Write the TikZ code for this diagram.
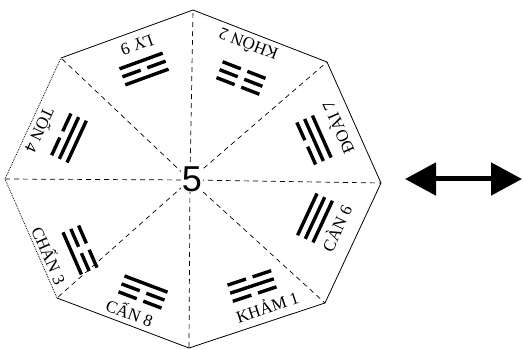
\documentclass[tikz,border=0pt]{standalone}
\usepackage{fontspec}
\setmainfont{Liberation Serif}
\newfontfamily\digitfont{Liberation Sans}
\usetikzlibrary{arrows.meta}
\newcommand{\trline}[2]{%
  \ifnum#2=1
    \draw[trig] (-23,#1) -- (23,#1);
  \else
    \draw[trig] (-23,#1) -- (-3.5,#1) (3.5,#1) -- (23,#1);
  \fi}
\newcommand{\trigram}[6]{%
  \begin{scope}[shift={(#1,#2)},rotate=#3]
    \trline{-8.5}{#4}\trline{0}{#5}\trline{8.5}{#6}
  \end{scope}}
\begin{document}
\begin{tikzpicture}[x=1pt,y=-1pt,
  edge/.style={line width=0.8pt, line join=round},
  spoke/.style={line width=0.7pt, dash pattern=on 5pt off 4pt},
  lab/.style={font=\fontsize{17}{17}\selectfont, inner sep=0pt},
  trig/.style={line width=3.4pt},
  bigarrow/.style={line width=5pt, {Triangle[length=31pt,width=32pt]}-{Triangle[length=31pt,width=32pt]}}]
\useasboundingbox (0,0) rectangle (523,350);
\coordinate (c) at (190,180);
\coordinate (v0) at (193,10);
\coordinate (v1) at (327,62);
\coordinate (v2) at (381,183);
\coordinate (v3) at (325,303);
\coordinate (v4) at (189,348);
\coordinate (v5) at (57,298);
\coordinate (v6) at (5,179);
\coordinate (v7) at (61,58);
\foreach \i in {0,...,7} \draw[spoke] (c) -- (v\i);
\draw[edge] (v7) -- (v0) -- (v1) -- (v2) -- (v3) -- (v4) -- (v5);
\draw[edge, densely dotted] (v5) -- (v6) -- (v7);
\node[fill=white, inner sep=0.5pt, font=\digitfont\fontsize{36}{36}\selectfont] (five) at (192,179) {5};
% labels
\node[lab, rotate=158.8] (khon) at (248,45) {KHÔN 2};
\node[lab, rotate=114] (doai) at (337,128) {ĐOÀI 7};
\node[lab, rotate=65] (can6) at (336,228) {CÀN 6};
\node[lab, rotate=18.3] (kham) at (267,306) {KHẢM 1};
\node[lab, rotate=-20.7] (can8) at (130,312) {CẤN 8};
\node[lab, rotate=-66.4] (chan) at (50,255) {CHẤN 3};
\node[lab, rotate=-114.8] (ton) at (41,131) {TỐN 4};
\node[lab, rotate=-160] (ly) at (137,45) {LY 9};
% trigrams (top line faces the centre)
\trigram{241}{78}{158.8}{0}{0}{0}
\trigram{314}{140}{114}{0}{1}{1}
\trigram{315}{218}{65}{1}{1}{1}
\trigram{252}{286}{18.3}{0}{1}{0}
\trigram{143}{292}{-20.7}{1}{0}{0}
\trigram{80}{250}{-66.4}{0}{0}{1}
\trigram{69}{138}{-114.8}{1}{1}{0}
\trigram{144}{69}{-160}{1}{0}{1}
% double arrow
\coordinate (al) at (405,179);
\coordinate (ar) at (522,179);
\draw[bigarrow] (al) -- (ar);
\end{tikzpicture}
\end{document}
